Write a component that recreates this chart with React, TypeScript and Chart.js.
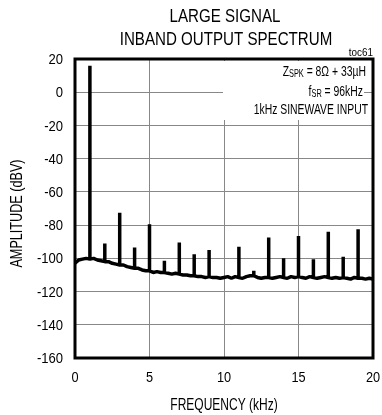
import React, { useEffect, useRef } from "react";
import { Chart, registerables } from "chart.js";

Chart.register(...registerables);

const FONT = "'Liberation Sans', Arial, sans-serif";

const TITLE_LINES = ["LARGE SIGNAL", "INBAND OUTPUT SPECTRUM"];
const TOC_LABEL = "toc61";
const X_TITLE = "FREQUENCY (kHz)";
const Y_TITLE = "AMPLITUDE (dBV)";

const X_MIN = 0;
const X_MAX = 20;
const X_STEP = 5;
const Y_MIN = -160;
const Y_MAX = 20;
const Y_STEP = 20;

// noise floor sampled every 0.25 kHz
const FLOOR_FREQ_KHZ = [
  0, 0.25, 0.5, 0.75, 1, 1.25, 1.5, 1.75, 2, 2.25, 2.5, 2.75, 3, 3.25, 3.5, 3.75,
  4, 4.25, 4.5, 4.75, 5, 5.25, 5.5, 5.75, 6, 6.25, 6.5, 6.75, 7, 7.25, 7.5, 7.75,
  8, 8.25, 8.5, 8.75, 9, 9.25, 9.5, 9.75, 10, 10.25, 10.5, 10.75, 11, 11.25, 11.5, 11.75,
  12, 12.25, 12.5, 12.75, 13, 13.25, 13.5, 13.75, 14, 14.25, 14.5, 14.75, 15, 15.25, 15.5, 15.75,
  16, 16.25, 16.5, 16.75, 17, 17.25, 17.5, 17.75, 18, 18.25, 18.5, 18.75, 19, 19.25, 19.5, 19.75, 20,
];
const FLOOR_DBV = [
  -103, -101, -100.5, -100, -100.5, -100, -101, -101.5, -102, -102, -103, -103.5, -104, -104, -105, -105.5,
  -106, -106, -107, -107.5, -107.5, -108.5, -108, -108.5, -108.5, -109, -109.5, -109, -109.5, -110, -110, -110.5,
  -110.5, -111, -111, -111.5, -111, -111.5, -111.5, -112, -111.5, -111, -112, -111, -111.5, -112, -111, -110.5,
  -110.5, -111.5, -112, -111.5, -111.5, -112, -111.5, -111, -111.5, -112, -111, -111.5, -111, -111.5, -112, -111,
  -111.5, -112, -111.5, -111, -111.5, -112, -111.5, -112, -111.5, -112, -112.5, -111.5, -112, -112, -112.5, -112, -112.5,
];

// harmonic spikes
const HARM_FREQ_KHZ = [1, 2, 3, 4, 5, 6, 7, 8, 9, 11, 12, 13, 14, 15, 16, 17, 18, 19];
const HARM_PEAK_DBV = [16, -91, -72.5, -93.5, -79.5, -101.5, -90.5, -97.5, -95, -93, -107.5, -87.5, -100, -86.5, -100.5, -84, -99, -82.5];

const NOTE_LINES = [
  [{ t: "Z", s: 15.5 }, { t: "SPK", s: 11, dy: 2 }, { t: " = 8\u03A9 + 33\u00B5H", s: 15.5 }],
  [{ t: "f", s: 15.5 }, { t: "SR", s: 11, dy: 2 }, { t: " = 96kHz", s: 15.5 }],
  [{ t: "1kHz SINEWAVE INPUT", s: 15.5 }],
];

function buildPoints() {
  const pts: { x: number; y: number }[] = [];
  FLOOR_FREQ_KHZ.forEach((f, i) => {
    const fl = FLOOR_DBV[i];
    const h = HARM_FREQ_KHZ.indexOf(f);
    if (h >= 0) {
      pts.push({ x: f, y: fl });
      pts.push({ x: f, y: HARM_PEAK_DBV[h] });
      pts.push({ x: f, y: fl });
    } else {
      pts.push({ x: f, y: fl });
    }
  });
  return pts;
}

// draws horizontally condensed text
function nText(
  ctx: CanvasRenderingContext2D,
  text: string,
  x: number,
  y: number,
  size: number,
  sx: number,
  align: "left" | "center" | "right"
) {
  ctx.save();
  ctx.font = `${size}px ${FONT}`;
  ctx.textBaseline = "middle";
  ctx.textAlign = align;
  ctx.translate(x, y);
  ctx.scale(sx, 1);
  ctx.fillText(text, 0, 0);
  ctx.restore();
}

const decorPlugin = {
  id: "decor",
  afterDraw(chart: any) {
    const ctx = chart.ctx as CanvasRenderingContext2D;
    const a = chart.chartArea;
    const cx = (a.left + a.right) / 2;
    ctx.save();
    ctx.fillStyle = "#000";

    nText(ctx, TITLE_LINES[0], cx + 1, 17, 18, 0.84, "center");
    nText(ctx, TITLE_LINES[1], cx + 2, 40, 18, 0.84, "center");
    nText(ctx, TOC_LABEL, a.right, 53, 11, 0.9, "right");

    // tick labels from the chart's scales
    const xs = chart.scales.x;
    xs.ticks.forEach((t: any) => {
      nText(ctx, String(t.value), xs.getPixelForValue(t.value), a.bottom + 20, 15, 0.85, "center");
    });
    const ys = chart.scales.y;
    ys.ticks.forEach((t: any) => {
      nText(ctx, String(t.value), a.left - 12, ys.getPixelForValue(t.value) + 1, 15, 0.87, "right");
    });

    // axis titles
    nText(ctx, X_TITLE, cx, 406, 16, 0.75, "center");
    ctx.save();
    ctx.translate(18, (a.top + a.bottom) / 2 + 5);
    ctx.rotate(-Math.PI / 2);
    nText(ctx, Y_TITLE, 0, 0, 16, 0.79, "center");
    ctx.restore();

    // annotation block
    const SX = 0.67;
    const rights = [a.right - 7, a.right - 10, a.right - 5];
    const centers = [a.top + 13, a.top + 33, a.top + 51];
    const tops = [a.top + 2, a.top + 23, a.top + 42];
    const bottoms = [a.top + 23, a.top + 42, a.top + 61];
    const boxLeft = 223;
    NOTE_LINES.forEach((runs, i) => {
      ctx.fillStyle = "#fff";
      ctx.fillRect(boxLeft, tops[i], rights[i] + 1 - boxLeft, bottoms[i] - tops[i]);
      ctx.fillStyle = "#000";
      const widths = runs.map((r: any) => {
        ctx.font = `${r.s}px ${FONT}`;
        return ctx.measureText(r.t).width * SX;
      });
      let x = rights[i] - widths.reduce((p, w) => p + w, 0);
      runs.forEach((r: any, k: number) => {
        nText(ctx, r.t, x, centers[i] + (r.dy || 0), r.s, SX, "left");
        x += widths[k];
      });
    });

    // frame
    ctx.strokeStyle = "#000";
    ctx.lineWidth = 3;
    ctx.strokeRect(a.left, a.top, a.right - a.left, a.bottom - a.top);
    ctx.restore();
  },
};

export default function App() {
  const ref = useRef<HTMLCanvasElement | null>(null);
  useEffect(() => {
    if (!ref.current) return;
    const chart = new Chart(ref.current, {
      type: "line",
      data: {
        datasets: [
          {
            data: buildPoints(),
            borderColor: "#000",
            borderWidth: 3.5,
            borderJoinStyle: "bevel",
            pointRadius: 0,
            tension: 0,
            fill: false,
          },
        ],
      },
      options: {
        animation: false,
        responsive: false,
        events: [],
        parsing: false as any,
        layout: { padding: { left: 0, top: 59, right: 9, bottom: 0 } },
        plugins: { legend: { display: false }, tooltip: { enabled: false }, title: { display: false } },
        scales: {
          x: {
            type: "linear",
            min: X_MIN,
            max: X_MAX,
            border: { display: false },
            grid: { color: "#888", lineWidth: 1, drawTicks: false },
            ticks: { stepSize: X_STEP, display: false },
            afterFit: (s: any) => {
              s.height = 57;
              s.paddingLeft = 0;
              s.paddingRight = 0;
            },
          },
          y: {
            type: "linear",
            min: Y_MIN,
            max: Y_MAX,
            border: { display: false },
            grid: { color: "#888", lineWidth: 1, drawTicks: false },
            ticks: { stepSize: Y_STEP, display: false },
            afterFit: (s: any) => {
              s.width = 75;
              s.paddingTop = 0;
              s.paddingBottom = 0;
            },
          },
        },
      },
      plugins: [decorPlugin],
    });
    return () => chart.destroy();
  }, []);
  return (
    <div style={{ position: "absolute", left: 0, top: 0, width: 382, height: 415, background: "#fff" }}>
      <canvas ref={ref} width={382} height={415} style={{ display: "block" }} />
    </div>
  );
}
